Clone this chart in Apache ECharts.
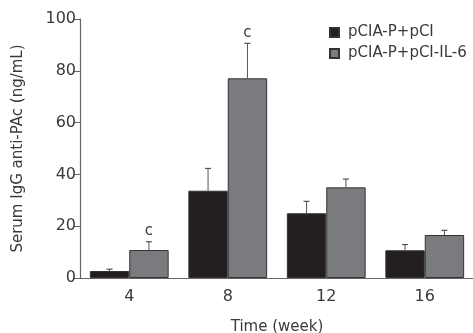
<!DOCTYPE html>
<html>
<head>
<meta charset="utf-8">
<script src="https://cdn.jsdelivr.net/npm/echarts@6/dist/echarts.min.js"></script>
<style>
  html, body { margin: 0; padding: 0; background: #fff; }
</style>
</head>
<body>
<div id="chart" style="width: 473px; height: 333px"></div>
<script>
// data
const weeks = ["4", "8", "12", "16"];
const ctrlMean = [2.7, 33.7, 25.0, 10.7];
const ctrlErr = [0.7, 8.6, 4.6, 2.2];
const il6Mean = [10.8, 77.1, 35.0, 16.6];
const il6Err = [3.2, 13.5, 3.2, 1.8];
const il6Sig = ["c", "c", "", ""];
const yTicks = [0, 20, 40, 60, 80, 100];

const FONT = "DejaVu Sans";
const TEXT = "#3a3a3a";
const AXIS = "#666";

var myChart = echarts.init(document.getElementById("chart"));

// error bars: one upward whisker with a cap, shifted to the bar's side
function errorSeries(name, means, errs, side, sig) {
  return {
    name: name + " err",
    type: "custom",
    silent: true,
    z: 5,
    data: means.map((m, i) => [i, m, m + errs[i], sig ? sig[i] : ""]),
    renderItem: function (params, api) {
      var catW = api.size([1, 0])[0];
      var dx = side * catW * 0.2;
      var low = api.coord([api.value(0), api.value(1)]);
      var high = api.coord([api.value(0), api.value(2)]);
      var x = low[0] + dx;
      var children = [
        {
          type: "line",
          shape: { x1: x, y1: low[1], x2: x, y2: high[1] },
          style: { stroke: "#555", lineWidth: 1 },
        },
        {
          type: "line",
          shape: { x1: x - 3, y1: high[1], x2: x + 3, y2: high[1] },
          style: { stroke: "#555", lineWidth: 1.2 },
        },
      ];
      var label = api.value(3);
      if (label) {
        children.push({
          type: "text",
          style: {
            x: x,
            y: high[1] - 3,
            text: label,
            fill: TEXT,
            font: "15px " + FONT,
            textAlign: "center",
            textVerticalAlign: "bottom",
          },
        });
      }
      return { type: "group", children: children };
    },
  };
}

var option = {
  animation: false,
  grid: { left: 80, right: -1, top: 19, bottom: 55, outerBoundsMode: "none" },
  legend: {
    orient: "vertical",
    left: 329,
    top: 25,
    padding: 0,
    itemWidth: 9,
    itemHeight: 9,
    itemGap: 6,
    icon: "rect",
    textStyle: { fontFamily: FONT, fontSize: 15, color: TEXT, padding: [0, 0, 0, 4] },
    data: ["pCIA-P+pCI", "pCIA-P+pCI-IL-6"],
  },
  xAxis: {
    type: "category",
    data: weeks,
    name: "Time (week)",
    nameLocation: "middle",
    nameGap: 42,
    nameTextStyle: { fontFamily: FONT, fontSize: 15, color: TEXT },
    axisLine: { lineStyle: { color: AXIS, width: 1.2 } },
    axisTick: { length: 6, lineStyle: { color: AXIS } },
    axisLabel: { fontFamily: FONT, fontSize: 16, color: TEXT, margin: 11 },
  },
  yAxis: {
    type: "value",
    min: yTicks[0],
    max: yTicks[yTicks.length - 1],
    interval: 20,
    name: "Serum IgG anti-PAc (ng/mL)",
    nameLocation: "middle",
    nameGap: 54,
    nameTextStyle: { fontFamily: FONT, fontSize: 15, color: TEXT },
    axisLine: { show: true, lineStyle: { color: AXIS, width: 1.2 } },
    axisTick: { show: true, length: 6, lineStyle: { color: AXIS } },
    axisLabel: { fontFamily: FONT, fontSize: 16, color: TEXT, margin: 4 },
    splitLine: { show: false },
  },
  series: [
    {
      name: "pCIA-P+pCI",
      type: "bar",
      data: ctrlMean,
      barWidth: "40%",
      barGap: "0%",
      itemStyle: { color: "#231f20", borderColor: "#333", borderWidth: 1 },
    },
    {
      name: "pCIA-P+pCI-IL-6",
      type: "bar",
      data: il6Mean,
      barWidth: "40%",
      barGap: "0%",
      itemStyle: { color: "#7a7b7e", borderColor: "#333", borderWidth: 1 },
    },
    errorSeries("pCIA-P+pCI", ctrlMean, ctrlErr, -1),
    errorSeries("pCIA-P+pCI-IL-6", il6Mean, il6Err, 1, il6Sig),
  ],
};

myChart.setOption(option);
</script>
</body>
</html>
